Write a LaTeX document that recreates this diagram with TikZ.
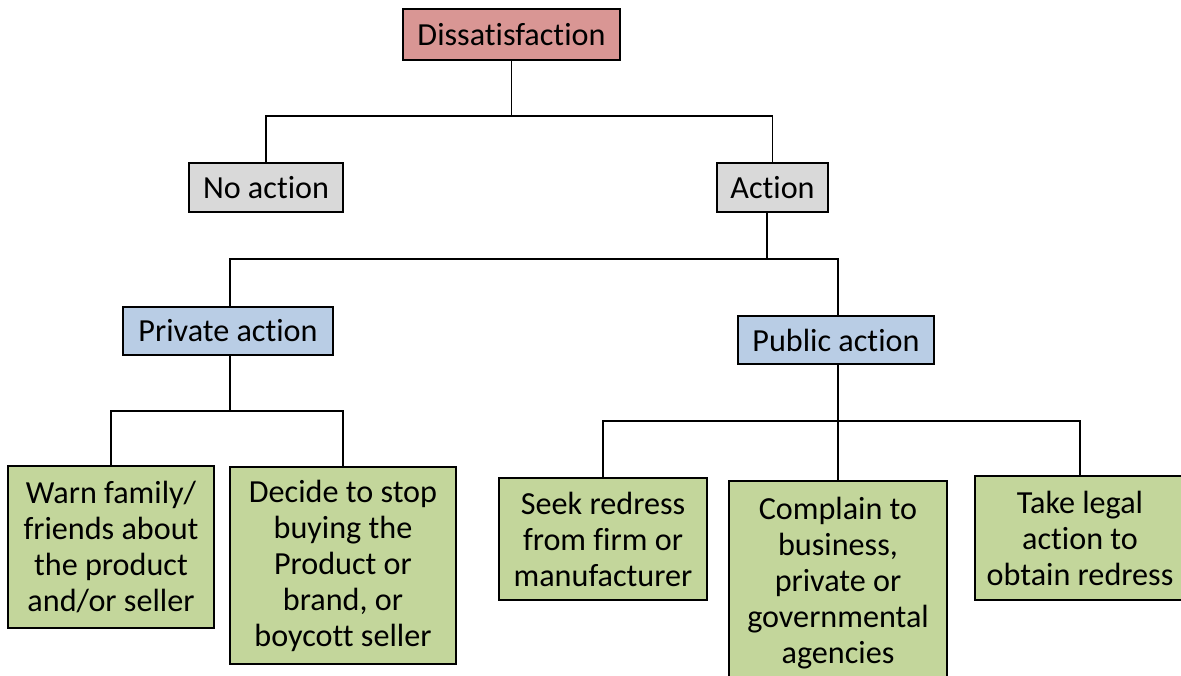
\documentclass[tikz,border=0pt]{standalone}
\usepackage{fontspec}
\setmainfont{Carlito}[Ligatures=NoCommon]
\usepackage{tikz}
\usepackage{xcolor}
\definecolor{topred}{RGB}{217,150,148}
\definecolor{boxgray}{RGB}{217,217,217}
\definecolor{boxblue}{RGB}{185,205,229}
\definecolor{boxgreen}{RGB}{195,214,155}
\tikzset{
	box/.style={draw,line width=1.1pt,align=center,inner sep=0pt,
		font=\fontsize{18.3}{20.5}\selectfont},
	link/.style={line width=1.1pt}
}

\begin{document}
\begin{tikzpicture}[x=0.2mm,y=-0.2mm]

\useasboundingbox (0,0) rectangle (1181,675);
% levels 1-3
\node[box,fill=topred,minimum width=43.4mm,minimum height=10.2mm] (diss) at (511.5,34.5) {Dissatisfaction};
\node[box,fill=boxgray,minimum width=30.8mm,minimum height=9.8mm] (noact) at (266,187.5) {No action};
\node[box,fill=boxgray,minimum width=22.2mm,minimum height=9.8mm] (act) at (772.5,187.5) {Action};
\node[box,fill=boxblue,minimum width=42mm,minimum height=9.6mm] (priv) at (228,331) {Private action};
\node[box,fill=boxblue,minimum width=39.2mm,minimum height=9.6mm] (pub) at (836,340) {Public action};
% outcomes
\node[box,fill=boxgreen,minimum width=41.2mm,minimum height=32.4mm] (warn) at (111,547) {Warn family/\\friends about\\the product\\and/or seller};
\node[box,fill=boxgreen,minimum width=45.2mm,minimum height=39.4mm] (stop) at (343,565.5) {Decide to stop\\buying the\\Product or\\brand, or\\boycott seller};
\node[box,fill=boxgreen,minimum width=41.6mm,minimum height=24.4mm] (seek) at (603,539) {Seek redress\\from firm or\\manufacturer};
\node[box,fill=boxgreen,minimum width=43.6mm,minimum height=40.8mm] (compl) at (838,583) {Complain to\\business,\\private or\\governmental\\agencies};
\node[box,fill=boxgreen,minimum width=42mm,minimum height=24.8mm] (legal) at (1080,538) {Take legal\\action to\\obtain redress};

% junctions
\coordinate (j1) at (511.5,116);
\coordinate (j2) at (767,259);
\coordinate (j3) at (230,411);
\coordinate (j4) at (838,421);

\draw[link] (diss.south) -- (j1);
\draw[link] (noact.north) |- (j1) -| (act.north);
\draw[link] (act.south -| j2) -- (j2);
\draw[link] (priv.north -| j3) |- (j2) -| (pub.north -| j4);
\draw[link] (priv.south -| j3) -- (j3);
\draw[link] (warn.north) |- (j3) -| (stop.north);
\draw[link] (pub.south -| j4) -- (j4);
\draw[link] (seek.north) |- (j4) -| (legal.north);
\draw[link] (j4) -- (compl.north);

\end{tikzpicture}
\end{document}
